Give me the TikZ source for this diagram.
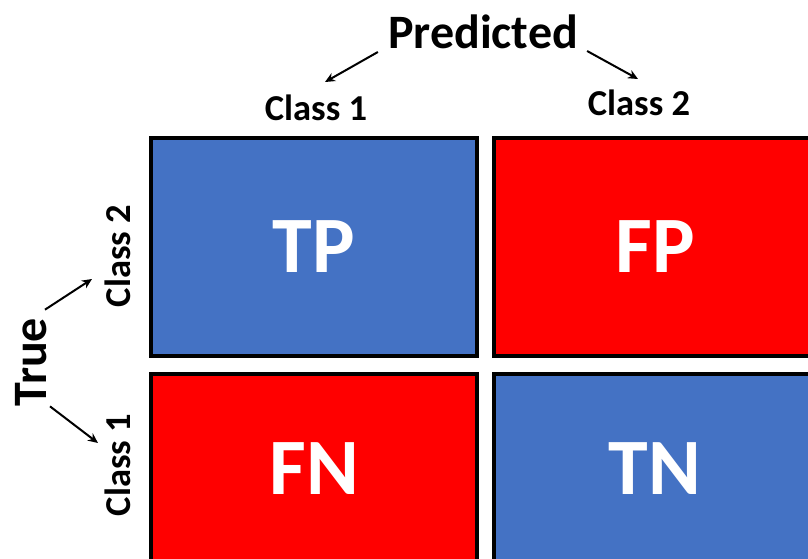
\documentclass[tikz,border=0pt]{standalone}
\usepackage{fontspec}
\setmainfont{Carlito}
\usetikzlibrary{arrows.meta}
\definecolor{cmblue}{HTML}{4472C4}
\definecolor{cmred}{HTML}{FF0000}
\tikzstyle{cell} = [rectangle, draw=black, line width=4pt, text=white, inner sep=0pt, font=\fontsize{80}{80}\selectfont\bfseries]
\tikzstyle{head} = [inner sep=0pt, anchor=base, font=\fontsize{48}{48}\selectfont\bfseries]
\tikzstyle{cls} = [inner sep=0pt, anchor=base, font=\fontsize{36.5}{36.5}\selectfont\bfseries]
\tikzstyle{arrow} = [line width=2pt, -{Stealth[length=10pt, width=9pt]}]

\begin{document}
\begin{tikzpicture}[x=1pt, y=-1pt]

\clip (0,0) rectangle (808,558);
\fill[white] (0,0) rectangle (808,558);

\node (tp) [cell, fill=cmblue, minimum width=326pt, minimum height=218pt] at (314,247) {TP};
\node (fp) [cell, fill=cmred, minimum width=322pt, minimum height=218pt] at (655,247) {FP};
\node (fn) [cell, fill=cmred, minimum width=326pt, minimum height=190pt] at (314,469) {FN};
\node (tn) [cell, fill=cmblue, minimum width=322pt, minimum height=190pt] at (655,469) {TN};

\node (pred) [head] at (483,48) {Predicted};
\node (cls1) [cls] at (316,120) {Class 1};
\node (cls2) [cls] at (639,115) {Class 2};

\node (true) [head, rotate=90] at (46,362) {True};
\node (row2) [cls, rotate=90] at (130,256) {Class 2};
\node (row1) [cls, rotate=90] at (130,465) {Class 1};

\draw [arrow] ([shift={(-10,4)}]pred.base west) -- ([shift={(9,-38)}]cls1.base);
\draw [arrow] ([shift={(9,3)}]pred.base east) -- ([shift={(-1,-36)}]cls2.base);

\draw [arrow] ([shift={(-1,-8)}]true.base east) -- ([shift={(-38,23)}]row2.base);
\draw [arrow] ([shift={(4,0)}]true.base west) -- ([shift={(-32,-22)}]row1.base);

\end{tikzpicture}
\end{document}
